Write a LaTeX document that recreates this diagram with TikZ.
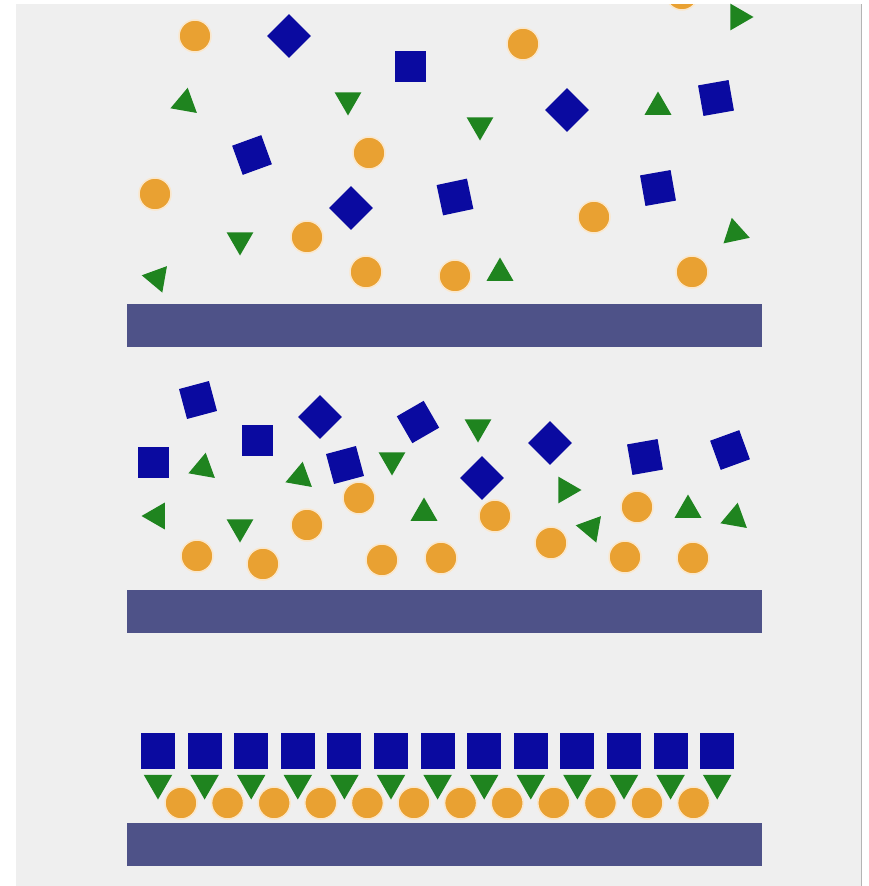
\documentclass[tikz,border=0pt]{standalone}
\usetikzlibrary{shapes.geometric}

\definecolor{bggray}{HTML}{EFEFEF}
\definecolor{edgegray}{HTML}{B4B4B4}
\definecolor{dotorange}{HTML}{E9A132}
\definecolor{sqblue}{HTML}{0A0AA0}
\definecolor{trigreen}{HTML}{1F841F}
\definecolor{barslate}{HTML}{4E5288}

\tikzset{
  orangedot/.style={circle, fill=dotorange, draw=dotorange!25, line width=1.5pt, inner sep=0pt, minimum size=32pt},
  bluesq/.style={rectangle, fill=sqblue, inner sep=0pt, minimum size=31pt},
  greentri/.style={regular polygon, regular polygon sides=3, fill=trigreen, inner sep=0pt, minimum size=33pt},
  basebar/.style={rectangle, fill=barslate, inner sep=0pt, minimum width=635pt, minimum height=43pt}
}

\begin{document}
\begin{tikzpicture}[x=1pt, y=-1pt]
\useasboundingbox (0,0) rectangle (869,886);
\fill[white] (0,0) rectangle (869,886);
\fill[bggray] (16,4) rectangle (861,886);
\draw[edgegray, line width=1pt] (861,4) -- (861,886);

% top panel: loose mixture
\begin{scope}
\clip (16,4) rectangle (861,886);
\foreach \x/\y [count=\i] in {195/36, 523/44, 682/-6, 369/153, 155/194, 594/217, 307/237, 366/272, 455/276, 692/272}
  \node[orangedot] (a-o\i) at (\x,\y) {};
\end{scope}
\foreach \x/\y/\r [count=\i] in {289/36/45, 410/66/0, 567/110/45, 716/98/10, 252/155/20, 351/208/45, 455/197/12, 658/188/10}
  \node[bluesq, rotate=\r] (a-b\i) at (\x,\y) {};
\foreach \x/\y/\r [count=\i] in {185/103/-10, 348/100/180, 480/125/180, 658/107/0, 738/17/-90, 240/240/180, 735/233/12, 157/278/80, 500/273/0}
  \node[greentri, rotate=\r, minimum size=31pt] (a-g\i) at (\x,\y) {};
\node[basebar] (bar1) at (444.5,325.5) {};

% middle panel: settling
\foreach \x/\y [count=\i] in {359/498, 307/525, 495/516, 637/507, 551/543, 197/556, 263/564, 382/560, 441/558, 625/557, 693/558}
  \node[orangedot] (b-o\i) at (\x,\y) {};
\foreach \x/\y/\r [count=\i] in {198/400/15, 153/462/0, 257/440/0, 320/417/45, 345/465/15, 418/422/30, 482/478/45, 550/443/45, 645/457/10, 730/450/20}
  \node[bluesq, rotate=\r] (b-b\i) at (\x,\y) {};
\foreach \x/\y/\r [count=\i] in {203/468/-10, 478/427/180, 392/460/180, 300/477/-10, 157/516/90, 240/527/180, 424/513/0, 566/490/-90, 591/528/80, 688/510/0, 735/518/-10}
  \node[greentri, rotate=\r, minimum size=31pt] (b-g\i) at (\x,\y) {};
\node[basebar] (bar2) at (444.5,611) {};

% bottom panel: ordered layers
\foreach \i in {0,...,11}
  \node[orangedot] (c-o\i) at ({181+46.6*\i},803) {};
\foreach \i in {0,...,12} {
  \node[bluesq, minimum width=34pt, minimum height=36pt] (c-b\i) at ({158+46.6*\i},751) {};
  \node[greentri, rotate=180] (c-g\i) at ({158+46.6*\i},783) {};
}
\node[basebar] (bar3) at (444.5,844.5) {};
\end{tikzpicture}
\end{document}
